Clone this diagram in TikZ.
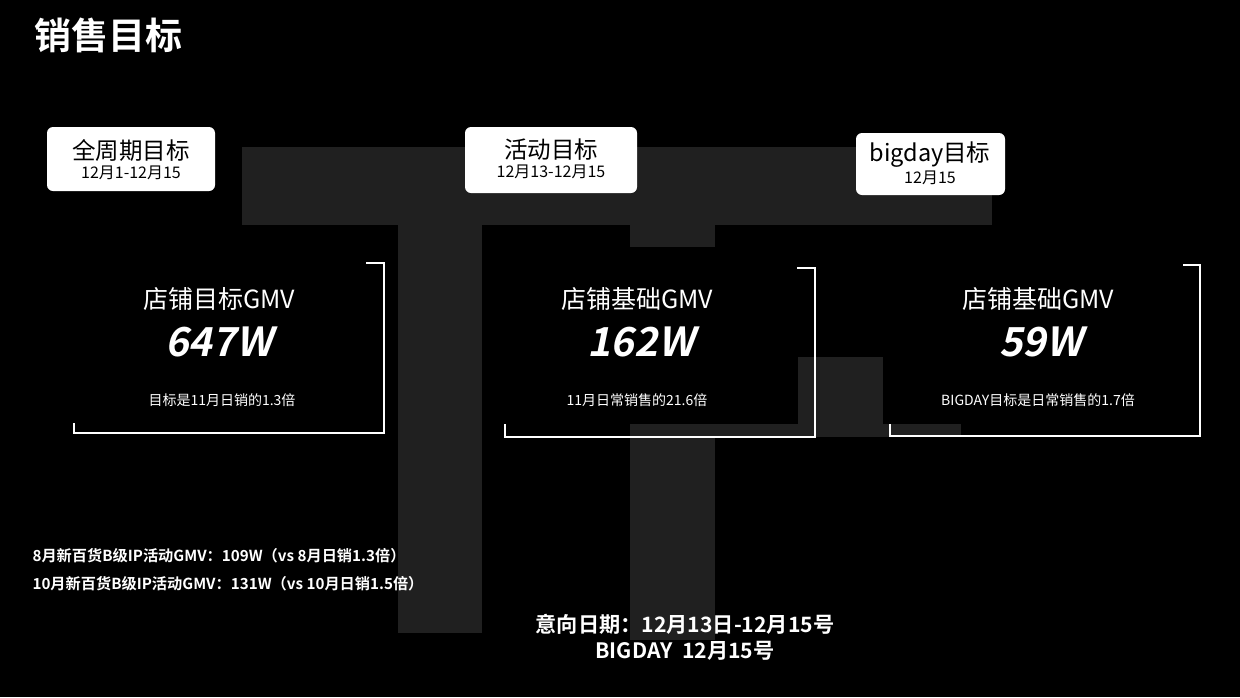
\documentclass[tikz,border=0pt]{standalone}
\usepackage{fontspec}
\setmainfont{Noto Sans CJK SC}
\newfontfamily\cjk{Noto Sans CJK SC}
\newfontfamily\cjkb{Noto Sans CJK SC Bold}
\newfontfamily\cjkbi[FakeSlant=0.2]{Noto Sans CJK SC Bold}
\begin{document}
\begin{tikzpicture}[x=1pt,y=-1pt,
  bg/.style={fill={rgb,255:red,32;green,32;blue,32}},
  brk/.style={draw=white,line width=1.6pt},
  lab/.style={text=black,font=\cjk\fontsize{23.5}{26}\selectfont},
  labd/.style={text=black,font=\cjk\fontsize{16}{18}\selectfont},
  head/.style={text=white,font=\cjk\fontsize{25}{28}\selectfont},
  big/.style={text=white,font=\cjkbi\fontsize{40}{44}\selectfont},
  small/.style={text=white,font=\cjk\fontsize{14}{16}\selectfont},
  note/.style={text=white,font=\cjkb\fontsize{15.2}{18}\selectfont,anchor=west},
  date/.style={text=white,font=\cjkb\fontsize{21.2}{25}\selectfont}]
\fill[black] (0,0) rectangle (1240,697);
\useasboundingbox (0,0) rectangle (1240,697);
% background shapes
\fill[bg] (242,147) rectangle (992,225);
\fill[bg] (398,225) rectangle (482,633);
\fill[bg] (630,225) rectangle (715,247);
\fill[bg] (798,357) rectangle (883,437);
\fill[bg] (630,424) rectangle (961,437);
\fill[bg] (630,437) rectangle (715,640);
% title
\node[anchor=west,text=white,font=\cjkb\fontsize{37}{42}\selectfont] (title) at (31,35) {销售目标};
% label boxes
\fill[white,rounded corners=6pt] (47,127) rectangle (215,191);
\fill[white,rounded corners=6pt] (465,127) rectangle (637,193);
\fill[white,rounded corners=6pt] (856,133) rectangle (1005,195);
\node[lab] (l1) at (131,151) {全周期目标};
\node[labd] (l1d) at (131,173) {12月1-12月15};
\node[lab] (l2) at (551,150) {活动目标};
\node[labd] (l2d) at (551,172) {12月13-12月15};
\node[lab] (l3) at (930,155) {bigday目标};
\node[labd] (l3d) at (930,178) {12月15};
% brackets
\draw[brk] (366,263) -- (384,263) -- (384,433) -- (74,433) -- (74,423);
\draw[brk] (797,268) -- (815,268) -- (815,437) -- (505,437) -- (505,424);
\draw[brk] (1183,265) -- (1200,265) -- (1200,436) -- (890,436) -- (890,424);
% contents
\node[head] (h1) at (219,299) {店铺目标GMV};
\node[big] (v1) at (219,342) {647W};
\node[small] (s1) at (222,400) {目标是11月日销的1.3倍};
\node[head] (h2) at (637,299) {店铺基础GMV};
\node[big] (v2) at (641,342) {162W};
\node[small] (s2) at (637,400) {11月日常销售的21.6倍};
\node[head] (h3) at (1038,299) {店铺基础GMV};
\node[big] (v3) at (1041,342) {59W};
\node[small] (s3) at (1038,400) {BIGDAY目标是日常销售的1.7倍};
% notes
\node[note] (n1) at (29,556) {8月新百货B级IP活动GMV：109W（vs 8月日销1.3倍）};
\node[note] (n2) at (29,584) {10月新百货B级IP活动GMV：131W（vs 10月日销1.5倍）};
\node[date] (d1) at (685,624) {意向日期：12月13日-12月15号};
\node[date] (d2) at (685,651) {BIGDAY\ \ 12月15号};
\end{tikzpicture}
\end{document}
